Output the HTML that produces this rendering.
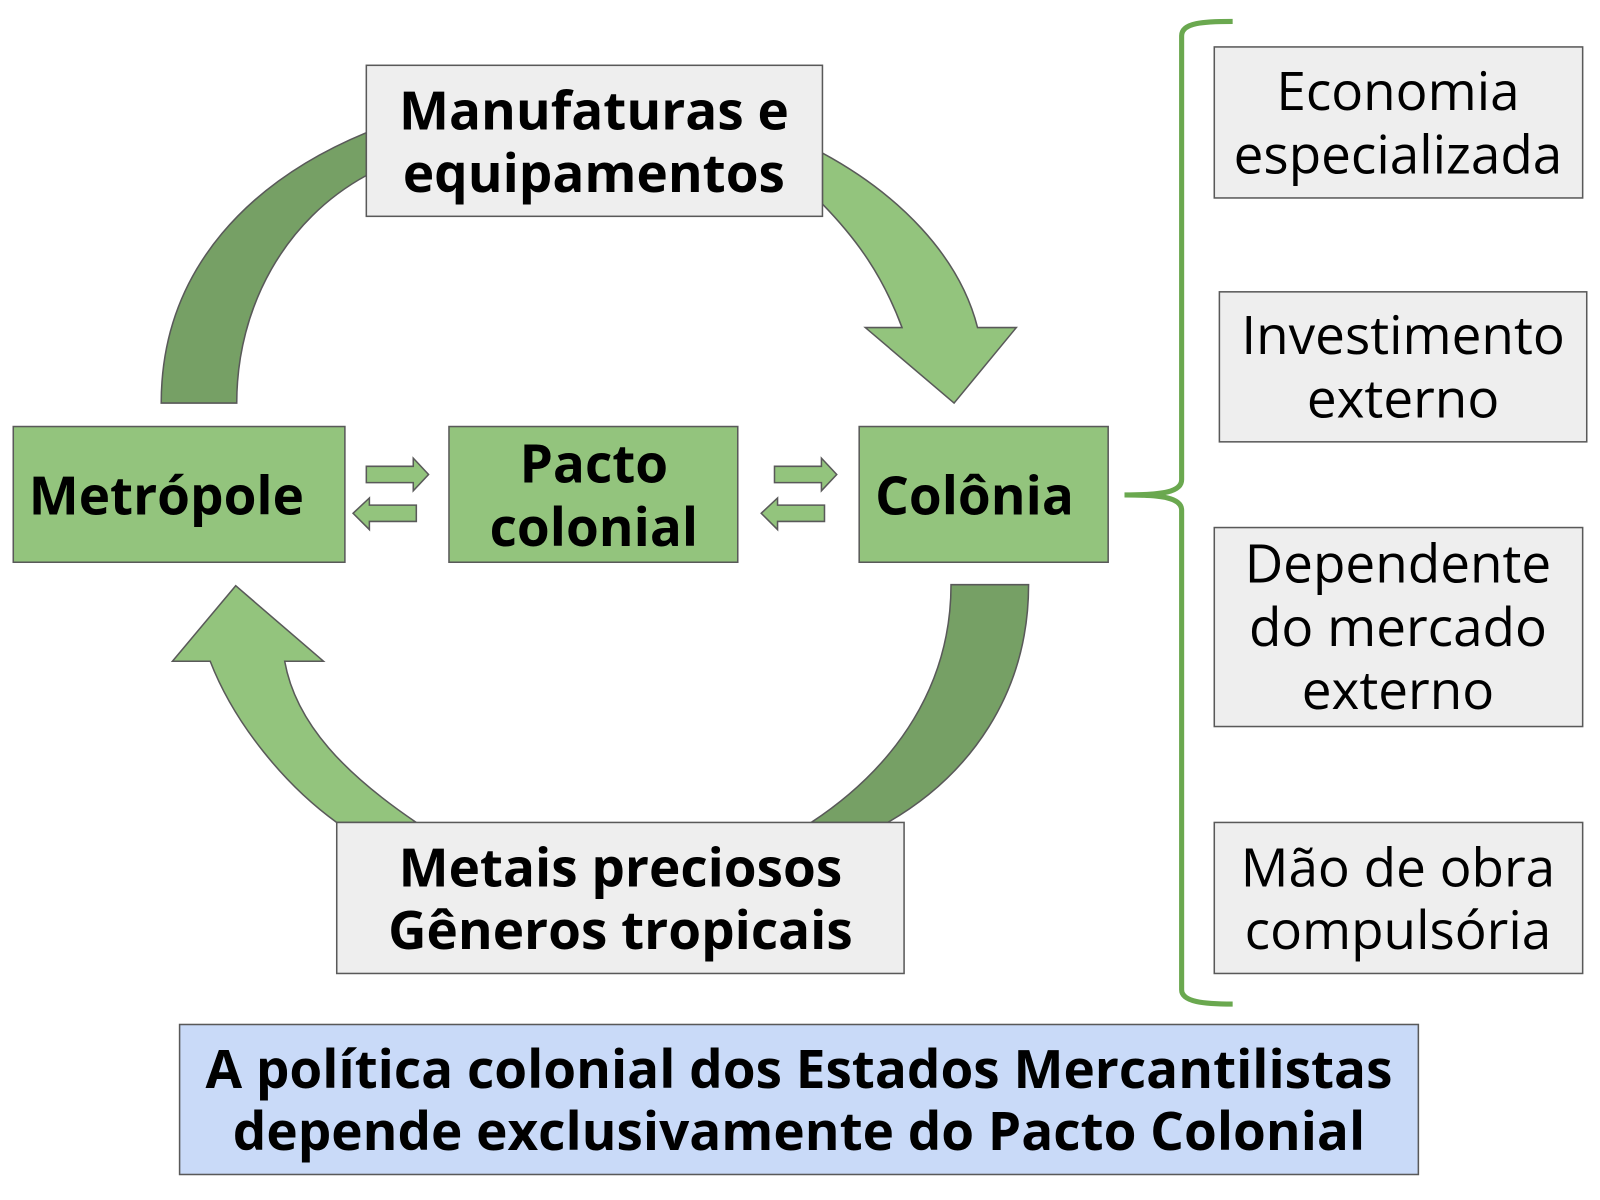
<!DOCTYPE html>
<html><head><meta charset="utf-8"><style>
html,body{margin:0;padding:0;background:#fff;}
svg{display:block;}
text{font-family:"Open Sans","Liberation Sans","DejaVu Sans",sans-serif;fill:#000;}
.b{font-weight:bold;font-size:52px;}
.r{font-size:52px;}
</style></head><body>
<svg width="1600" height="1200" viewBox="0 0 1568 1176" xmlns="http://www.w3.org/2000/svg">
<g stroke="#595959" stroke-width="1.5">
<path d="M158,395 C158,260 250,175 359,130 L359,172 C280,215 232,300 232,395 Z" fill="#76a065"/>
<path d="M806,150 C880,190 940,250 958,321 L996,321 L935,395 L848,321 L884,321 C865,270 840,235 806,200 Z" fill="#93c47d"/>
<path d="M1008,573 C1008,680 950,760 870,806 L795,806 C880,750 932,670 932,573 Z" fill="#76a065"/>
<path d="M408,806 C340,760 290,710 279,648 L317,648 L231,574 L169,648 L206,648 C230,710 280,770 330,806 Z" fill="#93c47d"/>
<path d="M359,457 L405,457 L405,449 L420,465 L405,481 L405,473 L359,473 Z" fill="#93c47d"/>
<path d="M408,495 L362,495 L362,488 L346,503 L362,519 L362,511 L408,511 Z" fill="#93c47d"/>
<path d="M759,457 L805,457 L805,449 L820,465 L805,481 L805,473 L759,473 Z" fill="#93c47d"/>
<path d="M808,495 L762,495 L762,488 L746,503 L762,519 L762,511 L808,511 Z" fill="#93c47d"/>
<rect x="359" y="64" width="447" height="148" fill="#eeeeee"/>
<rect x="13" y="418" width="325" height="133" fill="#93c47d"/>
<rect x="440" y="418" width="283" height="133" fill="#93c47d"/>
<rect x="842" y="418" width="244" height="133" fill="#93c47d"/>
<rect x="330" y="806" width="556" height="148" fill="#eeeeee"/>
<rect x="1190" y="46" width="361" height="148" fill="#eeeeee"/>
<rect x="1195" y="286" width="360" height="147" fill="#eeeeee"/>
<rect x="1190" y="517" width="361" height="195" fill="#eeeeee"/>
<rect x="1190" y="806" width="361" height="148" fill="#eeeeee"/>
<rect x="176" y="1004" width="1214" height="147" fill="#c9daf8"/>
</g>
<path d="M1208,21 C1180,21 1158,22 1158,35 L1158,470 C1158,482 1140,485 1102,485 C1140,485 1158,488 1158,500 L1158,970 C1158,982 1180,984 1208,984" fill="none" stroke="#6aa84f" stroke-width="5"/>
<g text-anchor="middle">
<text class="b" x="582" y="127">Manufaturas e</text>
<text class="b" x="582" y="188">equipamentos</text>
<text class="b" x="163" y="504">Metrópole</text>
<text class="b" x="582" y="473">Pacto</text>
<text class="b" x="582" y="535">colonial</text>
<text class="b" x="955" y="504">Colônia</text>
<text class="b" x="608" y="869">Metais preciosos</text>
<text class="b" x="608" y="930">Gêneros tropicais</text>
<text class="r" x="1370" y="108">Economia</text>
<text class="r" x="1370" y="170">especializada</text>
<text class="r" x="1375" y="347">Investimento</text>
<text class="r" x="1375" y="409">externo</text>
<text class="r" x="1370" y="571">Dependente</text>
<text class="r" x="1370" y="633">do mercado</text>
<text class="r" x="1370" y="695">externo</text>
<text class="r" x="1370" y="869">Mão de obra</text>
<text class="r" x="1370" y="930">compulsória</text>
<text class="b" x="783" y="1066">A política colonial dos Estados Mercantilistas</text>
<text class="b" x="783" y="1127">depende exclusivamente do Pacto Colonial</text>
</g>
</svg>
</body></html>
